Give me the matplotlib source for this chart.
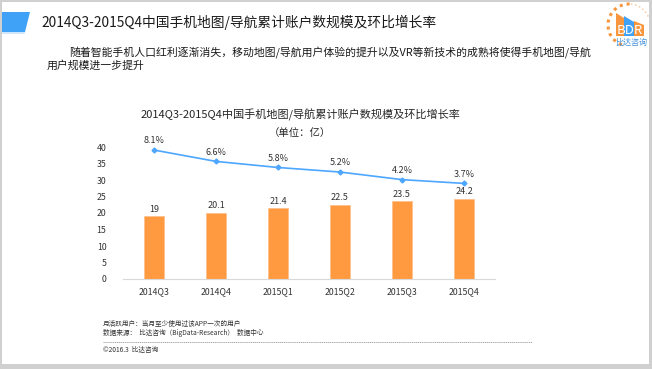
import numpy as np
import matplotlib
matplotlib.use("Agg")
import matplotlib.pyplot as plt
from matplotlib.patches import Polygon, Rectangle, Arc

plt.rcParams['font.family'] = ['Noto Sans CJK SC', 'DejaVu Sans']

quarters = ['2014Q3', '2014Q4', '2015Q1', '2015Q2', '2015Q3', '2015Q4']
users = [19, 20.1, 21.4, 22.5, 23.5, 24.2]
growth = [8.1, 6.6, 5.8, 5.2, 4.2, 3.7]
growth_labels = ['8.1%', '6.6%', '5.8%', '5.2%', '4.2%', '3.7%']

W, H = 652, 369
fig = plt.figure(figsize=(W / 100, H / 100), dpi=100)
fig.patch.set_facecolor('white')


def fx(x):
    return x / W


def fy(y):
    return 1 - y / H


# slide frame (pixel coords, y pointing down)
frame = fig.add_axes([0, 0, 1, 1])
frame.set_xlim(0, W)
frame.set_ylim(H, 0)
frame.axis('off')
frame.add_patch(Rectangle((0, 0), W, 2, color='#d0d0d0', lw=0))
frame.add_patch(Rectangle((0, 0), 2, H, color='#d0d0d0', lw=0))
frame.add_patch(Rectangle((649, 0), 3, H, color='#d0d0d0', lw=0))
frame.add_patch(Rectangle((0, 364), W, 5, color='#d0d0d0', lw=0))

# title marker
frame.add_patch(Polygon([(2, 12), (30, 12), (25, 32), (2, 32)], color='#3fa2f7', lw=0))
frame.add_patch(Polygon([(2, 32), (25, 32), (24.5, 34), (2, 34)], color='#cfe6fb', lw=0))

frame.text(41, 22, '2014Q3-2015Q4中国手机地图/导航累计账户数规模及环比增长率',
           fontsize=9.9, va='center', ha='left', color='#1a1a1a')
frame.text(69, 53, '随着智能手机人口红利逐渐消失，移动地图/导航用户体验的提升以及VR等新技术的成熟将使得手机地图/导航',
           fontsize=7.8, va='center', ha='left', color='#1a1a1a')
frame.text(47, 65, '用户规模进一步提升', fontsize=7.8, va='center', ha='left', color='#1a1a1a')

# logo (y axis inverted, so angles are mirrored)
frame.add_patch(Arc((629, 25), 42, 42, theta1=110, theta2=275, color='#f7963c',
                    lw=2.2, linestyle=(0, (1, 1.3))))
frame.add_patch(Arc((629, 25), 42, 42, theta1=275, theta2=340, color='#f3d2b0',
                    lw=1.2, linestyle=(0, (1, 1.5))))
frame.add_patch(Polygon([(616, 36), (616, 13), (624, 18), (624, 36)], color='#f7963c', lw=0))
frame.add_patch(Polygon([(624, 36), (624, 16), (634, 22), (634, 36)], color='#3fa2f7', lw=0))
frame.add_patch(Polygon([(634, 36), (634, 21), (644, 25), (644, 36)], color='#f7963c', lw=0))
frame.text(630, 30.5, 'BDR', fontsize=9.5, color='white', ha='center', va='center')
frame.text(631, 42, '比达咨询', fontsize=5.8, color='#3f8fd8', ha='center', va='center')

# footer
frame.text(103, 324, '月活跃用户：当月至少使用过该APP一次的用户', fontsize=4.8, va='center', color='#333333')
frame.text(103, 333, '数据来源：  比达咨询（BigData-Research）  数据中心', fontsize=4.8, va='center', color='#333333')
frame.plot([103, 532], [342, 342], color='#999999', lw=0.6, linestyle=(0, (1.5, 0.8)))
frame.text(103, 350, '©2016.3  比达咨询', fontsize=4.8, va='center', color='#333333')

# chart titles
frame.text(300, 115, '2014Q3-2015Q4中国手机地图/导航累计账户数规模及环比增长率',
           fontsize=8, ha='center', va='center', color='#262626')
frame.text(300, 133, '（单位：亿）', fontsize=7.5, ha='center', va='center', color='#262626')

# main chart
ax = fig.add_axes([fx(123), fy(279), fx(495) - fx(123), fy(147) - fy(279)])
x = np.arange(len(quarters))
ax.bar(x, users, width=0.32, color='#ff9a40', edgecolor='#ffc08a', linewidth=0.6, zorder=2)
ax.set_xlim(-0.5, len(quarters) - 0.5)
ax.set_ylim(0, 40)
ax.set_yticks(range(0, 41, 5))
ax.set_xticks(x)
ax.set_xticklabels(quarters)
ax.tick_params(axis='both', length=0, labelsize=6.3, colors='#333333')
ax.tick_params(axis='y', pad=12)
ax.tick_params(axis='x', pad=6)
for s in ['top', 'right', 'left']:
    ax.spines[s].set_visible(False)
ax.spines['bottom'].set_color('#d9d9d9')
ax.spines['bottom'].set_linewidth(0.8)
ax.patch.set_alpha(0)
for xi, v in zip(x, users):
    ax.text(xi, v + 2.2, f'{v:g}', ha='center', va='center', fontsize=6.5, color='#333333')

# growth rate on a hidden secondary axis
ax2 = ax.twinx()
ax2.plot(x, growth, color='#4da6ff', lw=1.2, marker='D', markersize=2.5, zorder=3)
ax2.set_ylim(-8.9, 8.5)
ax2.axis('off')
for xi, v, lab in zip(x, growth, growth_labels):
    ax2.text(xi, v + 1.2, lab, ha='center', va='center', fontsize=6.5, color='#333333')

fig.savefig('out.png', dpi=100)
